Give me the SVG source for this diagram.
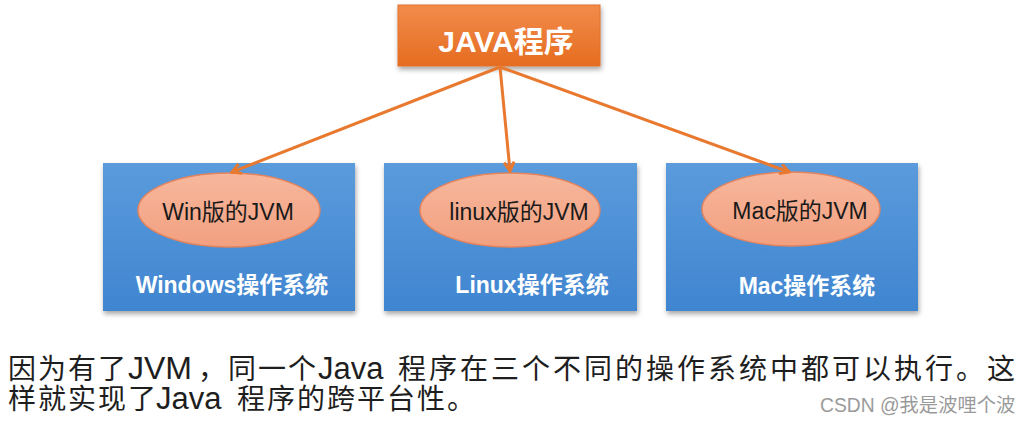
<svg xmlns="http://www.w3.org/2000/svg" width="1025" height="422" viewBox="0 0 1025 422">
  <defs>
    <linearGradient id="gOrange" x1="0" y1="0" x2="0" y2="1">
      <stop offset="0" stop-color="#F28C4C"/>
      <stop offset="1" stop-color="#E56C20"/>
    </linearGradient>
    <linearGradient id="gBlue" x1="0" y1="0" x2="0" y2="1">
      <stop offset="0" stop-color="#5B9BDC"/>
      <stop offset="1" stop-color="#3F85D0"/>
    </linearGradient>
    <linearGradient id="gEll" x1="0" y1="0" x2="0" y2="1">
      <stop offset="0" stop-color="#F7B79C"/>
      <stop offset="1" stop-color="#F2A080"/>
    </linearGradient>
    <filter id="shadow" x="-10%" y="-10%" width="120%" height="125%">
      <feDropShadow dx="1" dy="3" stdDeviation="2.5" flood-color="#000" flood-opacity="0.35"/>
    </filter>
    <marker id="arrow" markerWidth="12" markerHeight="12" refX="10" refY="6" orient="auto" markerUnits="userSpaceOnUse">
      <path d="M1,1 L10,6 L1,11" fill="none" stroke="#E8792F" stroke-width="3" stroke-linejoin="miter"/>
    </marker>
    <style>
      .os { fill: url(#gBlue); filter: url(#shadow); }
      .jvm { fill: url(#gEll); stroke: #E3845E; stroke-width: 1.5; }
      .jvmText { font-family: "Liberation Sans", "Noto Sans CJK SC", sans-serif; font-size: 23px; fill: #1a1a1a; text-anchor: middle; }
      .osText { font-family: "Liberation Sans", "Noto Sans CJK SC", sans-serif; font-size: 23px; font-weight: bold; fill: #ffffff; text-anchor: middle; }
      .edge { fill: none; stroke: #E8792F; stroke-width: 3; marker-end: url(#arrow); }
      .body { font-family: "Noto Sans CJK SC", sans-serif; fill: #1e1e1e; font-size: 28px; letter-spacing: 2px; }
      .lat { font-family: "Liberation Sans", sans-serif; letter-spacing: 0; }
    </style>
  </defs>

  <rect width="1025" height="422" fill="#ffffff"/>

  <g id="java-program">
    <rect x="398" y="5" width="202" height="61" fill="url(#gOrange)" stroke="#E0732D" stroke-width="1" filter="url(#shadow)"/>
    <text x="506" y="52" font-family="Liberation Sans, Noto Sans CJK SC, sans-serif" font-size="30" font-weight="bold" fill="#ffffff" text-anchor="middle">JAVA程序</text>
  </g>

  <g id="windows-os">
    <rect class="os" x="103" y="163" width="252" height="148"/>
    <ellipse class="jvm" cx="229" cy="210" rx="91" ry="37"/>
    <text class="jvmText" x="228" y="220">Win版的JVM</text>
    <text class="osText" x="232" y="293">Windows操作系统</text>
  </g>

  <g id="linux-os">
    <rect class="os" x="384" y="163" width="253" height="148"/>
    <ellipse class="jvm" cx="510" cy="210" rx="90" ry="37"/>
    <text class="jvmText" x="519" y="220">linux版的JVM</text>
    <text class="osText" x="532" y="293">Linux操作系统</text>
  </g>

  <g id="mac-os">
    <rect class="os" x="666" y="163" width="252" height="148"/>
    <ellipse class="jvm" cx="791" cy="209" rx="89" ry="37"/>
    <text class="jvmText" x="800" y="219">Mac版的JVM</text>
    <text class="osText" x="807" y="294">Mac操作系统</text>
  </g>

  <g id="connectors">
    <line class="edge" x1="500" y1="67" x2="232" y2="172"/>
    <line class="edge" x1="500" y1="67" x2="510" y2="171"/>
    <line class="edge" x1="500" y1="67" x2="789" y2="172"/>
  </g>

  <g id="caption">
    <text class="body" y="379"><tspan x="8">因为有了</tspan><tspan class="lat" x="128" font-size="32">JVM</tspan><tspan x="198">，同一个</tspan><tspan class="lat" x="318" font-size="31">Java</tspan><tspan x="398" letter-spacing="3">程序在三个不同的操作系统中都可以执行。这</tspan></text>
    <text class="body" y="409"><tspan x="8">样就实现了</tspan><tspan class="lat" x="156" font-size="31">Java</tspan><tspan x="237">程序的跨平台性。</tspan></text>
  </g>

  <text x="820" y="412" font-family="Liberation Sans, Noto Sans CJK SC, sans-serif" font-size="19.3" fill="#9a9a9a">CSDN @我是波哩个波</text>
</svg>
